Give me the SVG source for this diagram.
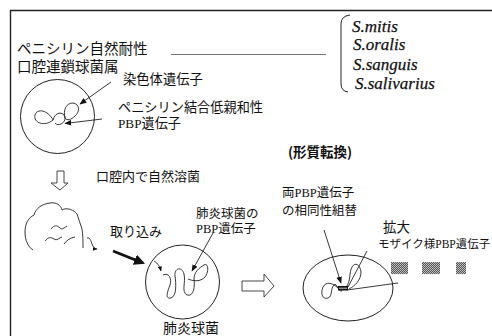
<svg xmlns="http://www.w3.org/2000/svg" width="492" height="336" viewBox="0 0 492 336">
  <style>
    .jp { font-family: "Noto Sans CJK JP", sans-serif; fill: #111; }
    .lat { font-family: "Liberation Serif", serif; }
    .sp { font-family: "Liberation Serif", serif; font-style: italic; font-size: 17px; fill: #111; stroke: #111; stroke-width: 0.25; }
    .ln { fill: none; stroke: #222; stroke-width: 1; }
    .thin { fill: none; stroke: #222; stroke-width: 0.9; }
  </style>
  <defs>
    <marker id="ah" viewBox="0 0 10 10" refX="9" refY="5" markerWidth="7" markerHeight="7" orient="auto" markerUnits="userSpaceOnUse">
      <path d="M0,1 L10,5 L0,9 Z" fill="#111"/>
    </marker>
    <marker id="ahs" viewBox="0 0 10 10" refX="9" refY="5" markerWidth="5" markerHeight="5" orient="auto" markerUnits="userSpaceOnUse">
      <path d="M0,1 L10,5 L0,9 Z" fill="#111"/>
    </marker>
    <marker id="ahb" viewBox="0 0 10 10" refX="8" refY="5" markerWidth="11" markerHeight="11" orient="auto" markerUnits="userSpaceOnUse">
      <path d="M0,0 L10,5 L0,10 Z" fill="#111"/>
    </marker>
    <pattern id="halftone" width="2" height="2" patternUnits="userSpaceOnUse">
      <rect width="2" height="2" fill="#5a5a5a"/>
      <rect width="1" height="1" fill="#c4c4c4"/>
      <rect x="1" y="1" width="1" height="1" fill="#b0b0b0"/>
    </pattern>
  </defs>

  <rect width="492" height="336" fill="#fff"/>

  <!-- frame -->
  <g id="frame">
    <line x1="10" y1="10.5" x2="492" y2="10.5" stroke="#222" stroke-width="1.6"/>
    <line x1="10.5" y1="10" x2="10.5" y2="336" stroke="#222" stroke-width="1.4"/>
  </g>

  <!-- title and species list -->
  <g id="title">
    <text class="jp" x="17" y="54" font-size="14.5">ペニシリン自然耐性</text>
    <text class="jp" x="17" y="72" font-size="14.5">口腔連鎖球菌属</text>
    <line x1="171" y1="54.5" x2="326" y2="54.5" stroke="#777" stroke-width="1"/>
  </g>
  <g id="species">
    <path class="ln" d="M350,15 Q341,16 341,24 V84 Q341,91 348,92"/>
    <text class="sp" x="352" y="32">S.mitis</text>
    <text class="sp" x="353" y="50">S.oralis</text>
    <text class="sp" x="353" y="70">S.sanguis</text>
    <text class="sp" x="355" y="89">S.salivarius</text>
  </g>

  <!-- oral streptococcus cell -->
  <g id="cell-oral">
    <circle class="ln" cx="57.5" cy="116.5" r="37"/>
    <path class="thin" d="M53,120 C48,110 37,108 35,115 C33,123 45,127 53,120 C55,112 63,111 65,117 C66,123 58,127 55,123"/>
    <path class="thin" d="M65,118 C63,110 66,103 73,103 C80,104 80,112 75,116 C71,120 67,121 65,118"/>
    <text class="jp" x="123" y="84" font-size="13.3">染色体遺伝子</text>
    <text class="jp" x="118" y="112" font-size="13.2">ペニシリン結合低親和性</text>
    <text class="jp" x="118" y="128" font-size="13.2"><tspan class="lat">PBP</tspan>遺伝子</text>
  </g>

  <!-- lysis step -->
  <g id="lysis">
    <path d="M57,171 H64 V183 H68 L60,190 L51,183 H57 Z" fill="none" stroke="#333" stroke-width="0.9"/>
    <text class="jp" x="96" y="181" font-size="13">口腔内で自然溶菌</text>
  </g>

  <!-- released DNA cloud -->
  <g id="dna-cloud">
    <path class="thin" d="M33,250 C28,247 25,240 25,232 C25,224 28,218 34,215 C36,208 42,204 50,203 C56,202 61,205 62,210 C67,207 74,210 77,214 C79,219 80,224 82,229 C83,235 83,242 83,248"/>
    <path class="thin" d="M51,229 C54,225 57,225 60,228 C62,230 64,228 67,226"/>
    <path class="thin" d="M45,241 C48,237 51,237 54,239 C57,241 59,238 62,237"/>
    <path class="thin" d="M64,244 C67,240 70,238 75,237"/>
    <path class="thin" d="M87,238 C90,237 91,241 92,244 C93,247 95,249 97,249" marker-end="url(#ahs)"/>
    <text class="jp" x="110" y="236" font-size="13">取り込み</text>
  </g>

  <!-- pneumococcus cell -->
  <g id="cell-pneumo">
    <circle class="ln" cx="182.5" cy="282" r="37"/>
    <path class="thin" d="M154,261 C158,263 160,267 161,271" marker-end="url(#ahs)"/>
    <path class="thin" d="M163,275 C169,272 172,279 170,285 C167,293 165,299 171,298 C177,296 176,283 175,276 C174,268 182,266 184,274 C186,282 181,292 187,295 C194,297 195,286 194,279 C194,272 199,268 204,265 C209,262 209,274 204,278 C199,282 193,281 188,279"/>
    <text class="jp" x="196" y="218" font-size="12.5">肺炎球菌の</text>
    <text class="jp" x="196" y="233" font-size="12.5"><tspan class="lat">PBP</tspan>遺伝子</text>
    <text class="jp" x="163" y="333" font-size="14">肺炎球菌</text>
  </g>

  <!-- transformed cell -->
  <g id="cell-transformed">
    <ellipse class="ln" cx="348" cy="288" rx="45" ry="33"/>
    <path class="thin" d="M338,288 C333,283 326,281 323,287 C320,294 323,300 328,298 C333,296 330,289 334,285 C337,282 338,292 342,291"/>
    <path class="thin" d="M349,289 C355,286 361,280 361,272 C360,264 355,262 352,267 C349,272 351,282 346,287"/>
    <rect x="338" y="286" width="10" height="4.5" fill="#111"/>
    <line x1="339" y1="288.2" x2="347" y2="288.2" stroke="#fff" stroke-width="0.8"/>
    <text class="jp" x="282" y="197" font-size="12.5">両<tspan class="lat">PBP</tspan>遺伝子</text>
    <text class="jp" x="282" y="215" font-size="12.5">の相同性組替</text>
    <text class="jp" x="288" y="157" font-size="13.5" font-weight="bold">(形質転換)</text>
    <text class="jp" x="383" y="232" font-size="13.5">拡大</text>
    <text class="jp" x="378" y="248" font-size="11.5">モザイク様<tspan class="lat">PBP</tspan>遺伝子</text>
  </g>

  <!-- mosaic gene segments -->
  <g id="mosaic">
    <rect x="391" y="262" width="17" height="12" fill="url(#halftone)"/>
    <rect x="422" y="262" width="18" height="12" fill="url(#halftone)"/>
    <rect x="456" y="262" width="10" height="12" fill="url(#halftone)"/>
  </g>

  <!-- connectors -->
  <g id="connectors">
    <line class="thin" x1="111" y1="82" x2="80" y2="104" marker-end="url(#ah)"/>
    <line class="thin" x1="102" y1="119" x2="65" y2="123.5" marker-end="url(#ah)"/>
    <line x1="113" y1="251" x2="143" y2="263" stroke="#111" stroke-width="2.6" marker-end="url(#ahb)"/>
    <line class="thin" x1="213" y1="233" x2="192" y2="271" marker-end="url(#ah)"/>
    <path d="M242,281 H264 V274 L274,286 L264,297 V291 H242 Z" fill="#fff" stroke="#333" stroke-width="0.9"/>
    <line class="thin" x1="324" y1="230" x2="341" y2="283" marker-end="url(#ah)"/>
    <line class="thin" x1="367" y1="251" x2="348" y2="287"/>
    <line class="thin" x1="398" y1="283" x2="347" y2="290"/>
  </g>
</svg>
